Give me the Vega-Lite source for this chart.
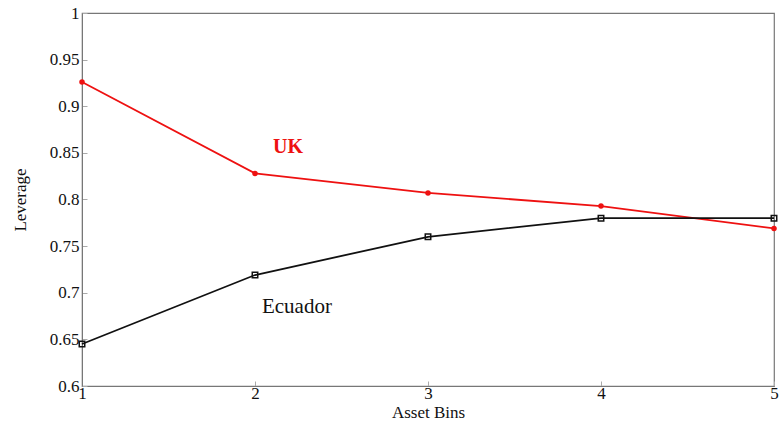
{
  "$schema": "https://vega.github.io/schema/vega-lite/v6.json",
  "width": 692,
  "height": 373,
  "autosize": "none",
  "padding": {"left": 82, "top": 13, "right": 6, "bottom": 37},
  "background": "white",
  "config": {
    "view": {"stroke": "#777777", "strokeWidth": 1.2},
    "font": "Liberation Serif",
    "axis": {
      "labelFont": "Liberation Serif",
      "titleFont": "Liberation Serif",
      "labelFontSize": 17,
      "titleFontSize": 17,
      "labelColor": "#111111",
      "titleColor": "#111111",
      "titleFontWeight": "normal",
      "grid": false,
      "domainColor": "#777777",
      "tickColor": "#aaaaaa",
      "tickSize": -5
    }
  },
  "datasets": {
    "series": [
      {"bin": 1, "leverage": 0.926, "country": "UK"},
      {"bin": 2, "leverage": 0.828, "country": "UK"},
      {"bin": 3, "leverage": 0.807, "country": "UK"},
      {"bin": 4, "leverage": 0.793, "country": "UK"},
      {"bin": 5, "leverage": 0.769, "country": "UK"},
      {"bin": 1, "leverage": 0.645, "country": "Ecuador"},
      {"bin": 2, "leverage": 0.719, "country": "Ecuador"},
      {"bin": 3, "leverage": 0.760, "country": "Ecuador"},
      {"bin": 4, "leverage": 0.780, "country": "Ecuador"},
      {"bin": 5, "leverage": 0.780, "country": "Ecuador"}
    ],
    "labels": [
      {"bin": 2.104, "leverage": 0.856, "country": "UK"},
      {"bin": 2.04, "leverage": 0.685, "country": "Ecuador"}
    ]
  },
  "layer": [
    {
      "data": {"name": "series"},
      "mark": {"type": "line", "strokeWidth": 1.8},
      "encoding": {
        "x": {"field": "bin", "type": "quantitative", "scale": {"domain": [1, 5], "nice": false}, "axis": {"values": [1, 2, 3, 4, 5], "title": "Asset Bins", "titlePadding": 3, "labelPadding": 4, "labelFlush": false, "format": "d"}},
        "y": {"field": "leverage", "type": "quantitative", "scale": {"domain": [0.6, 1], "nice": false, "zero": false}, "axis": {"values": [0.6, 0.65, 0.7, 0.75, 0.8, 0.85, 0.9, 0.95, 1], "title": "Leverage", "titlePadding": 20, "labelPadding": 8, "labelFlush": false, "labelExpr": "datum.value == 1 ? '1' : format(datum.value, '.2~f')"}},
        "color": {"field": "country", "type": "nominal", "scale": {"domain": ["UK", "Ecuador"], "range": ["#ee1111", "#111111"]}, "legend": null}
      }
    },
    {
      "data": {"name": "series"},
      "transform": [{"filter": "datum.country == 'UK'"}],
      "mark": {"type": "point", "shape": "circle", "filled": true, "size": 30, "color": "#ee1111", "opacity": 1},
      "encoding": {
        "x": {"field": "bin", "type": "quantitative"},
        "y": {"field": "leverage", "type": "quantitative"}
      }
    },
    {
      "data": {"name": "series"},
      "transform": [{"filter": "datum.country == 'Ecuador'"}],
      "mark": {"type": "point", "shape": "square", "filled": false, "size": 30, "color": "#111111", "strokeWidth": 1.5, "opacity": 1},
      "encoding": {
        "x": {"field": "bin", "type": "quantitative"},
        "y": {"field": "leverage", "type": "quantitative"}
      }
    },
    {
      "data": {"name": "labels"},
      "transform": [{"filter": "datum.country == 'UK'"}],
      "mark": {"type": "text", "fontSize": 20, "fontWeight": "bold", "font": "Liberation Serif", "align": "left", "baseline": "middle", "color": "#ee1111"},
      "encoding": {
        "x": {"field": "bin", "type": "quantitative"},
        "y": {"field": "leverage", "type": "quantitative"},
        "text": {"field": "country", "type": "nominal"}
      }
    },
    {
      "data": {"name": "labels"},
      "transform": [{"filter": "datum.country == 'Ecuador'"}],
      "mark": {"type": "text", "fontSize": 21, "font": "Liberation Serif", "align": "left", "baseline": "middle", "color": "#111111"},
      "encoding": {
        "x": {"field": "bin", "type": "quantitative"},
        "y": {"field": "leverage", "type": "quantitative"},
        "text": {"field": "country", "type": "nominal"}
      }
    }
  ]
}
